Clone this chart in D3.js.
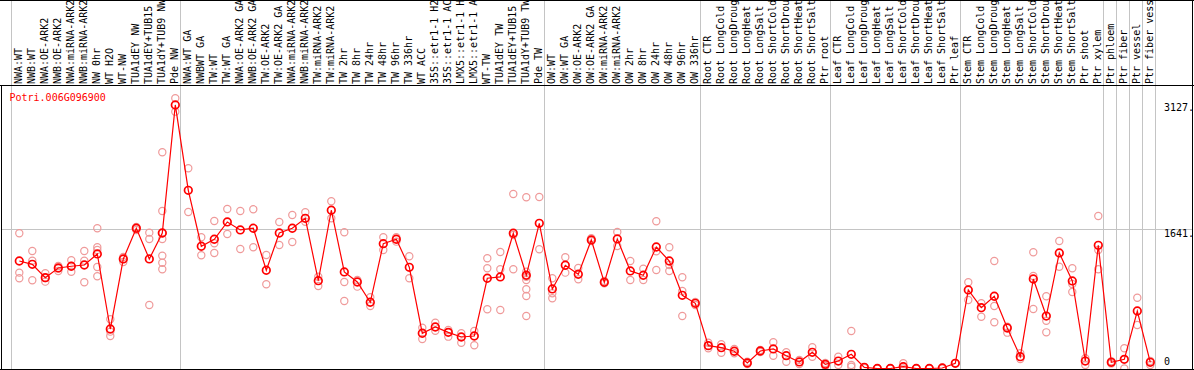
<!DOCTYPE html>
<html>
<head>
<meta charset="utf-8">
<script src="https://cdn.jsdelivr.net/npm/d3@7"></script>
<style>
body { margin: 0; background: #fff; }
svg { display: block; }
text { font-family: "DejaVu Sans Mono", monospace; font-size: 10px; }
</style>
</head>
<body>
<div id="chart"></div>
<script>

// gene shown in the chart
var geneName = "Potri.006G096900";

// sample names, as far as they show in the header
var categories = [
	"NWA:WT", "NWB:WT", "NWA:OE-ARK2", "NWB:OE-ARK2", "NWA:miRNA-ARK2", "NWB:miRNA-ARK2",
	"NW 0hr", "WT H2O", "WT-NW", "TUA1dEY NW", "TUA1dEY+TUB15", "TUA1dY+TUB9 NW", "Pde NW",
	"NWA:WT GA", "NWBWT GA", "TW:WT", "TW:WT GA", "NWA:OE-ARK2 GA", "NWB:OE-ARK2 GA",
	"TW:OE-ARK2", "TW:OE-ARK2 GA", "NWA:miRNA-ARK2", "NWB:miRNA-ARK2", "TW:miRNA-ARK2",
	"TW:miRNA-ARK2", "TW 2hr", "TW 8hr", "TW 24hr", "TW 48hr", "TW 96hr", "TW 336hr",
	"WT ACC", "35S::etr1-1 H2", "35S::etr1-1 AC", "LMX5::etr1-1 H", "LMX5::etr1-1 A",
	"WT-TW", "TUA1dEY TW", "TUA1dEY+TUB15", "TUA1dY+TUB9 TW", "Pde TW",
	"OW:WT", "OW:WT GA", "OW:OE-ARK2", "OW:OE-ARK2 GA", "OW:miRNA-ARK2", "OW:miRNA-ARK2",
	"OW 2hr", "OW 8hr", "OW 24hr", "OW 48hr", "OW 96hr", "OW 336hr",
	"Root CTR", "Root LongCold", "Root LongDroug", "Root LongHeat", "Root LongSalt",
	"Root ShortCold", "Root ShortDrou", "Root ShortHeat", "Root ShortSalt", "Ptr root",
	"Leaf CTR", "Leaf LongCold", "Leaf LongDroug", "Leaf LongHeat", "Leaf LongSalt",
	"Leaf ShortCold", "Leaf ShortDrou", "Leaf ShortHeat", "Leaf ShortSalt", "Ptr leaf",
	"Stem CTR", "Stem LongCold", "Stem LongDroug", "Stem LongHeat", "Stem LongSalt",
	"Stem ShortCold", "Stem ShortDrou", "Stem ShortHeat", "Stem ShortSalt",
	"Ptr shoot", "Ptr xylem", "Ptr phloem", "Ptr fiber", "Ptr vessel", "Ptr fiber vess"
];

// mean expression per sample (the dark line)
var meanValues = [
	1266, 1227, 1070, 1184, 1204, 1219, 1349, 465, 1290, 1652, 1290, 1596, 3104,
	2099, 1440, 1522, 1726, 1632, 1652, 1157, 1596, 1652, 1769, 1034, 1864,
	1137, 1019, 780, 1470, 1522, 1192, 415, 489, 426, 371, 383,
	1063, 1078, 1593, 1098, 1710,
	937, 1216, 1110, 1514, 1015, 1526, 1149, 1098, 1431, 1266, 862, 768,
	269, 245, 203, 65, 206, 230, 151, 77, 191, 49,
	88, 167, 14, 0, 0, 21, 0, 0, 6, 61,
	925, 716, 851, 477, 139, 1054, 618, 1361, 1031,
	88, 1451, 73, 108, 677, 73
];

// single replicates per sample (the pale circles)
var replicateValues = [
	[1593, 1129, 1063], [1384, 1270, 1039], [1121, 1066, 1023], [1207, 1178, 1149],
	[1275, 1207, 1140], [1384, 1270, 1015], [1652, 1428, 1396, 1196, 1086], [580, 434, 383],
	[1313, 1290, 1255], [1667, 1652, 1632], [1600, 1526, 748],
	[2547, 1855, 1593, 1526, 1329, 1246, 1169], [3183, 3025],
	[2358, 1844], [1546, 1333], [1738, 1475, 1361], [1879, 1584], [1855, 1408], [1875, 1428],
	[1337, 992], [1726, 1455], [1808, 1490], [1840, 1729], [1081, 972], [1970, 1769],
	[1604, 1019, 795], [1043, 964], [839, 736], [1546, 1396], [1546, 1494], [1322, 1063],
	[481, 348], [540, 445], [454, 375], [415, 304], [442, 273],
	[1298, 1180, 697], [1372, 1169, 689], [2056, 1573, 1169],
	[2017, 1140, 1081, 1043, 933, 854, 618], [2020, 1404],
	[1063, 886, 827], [1310, 1129], [1184, 1051], [1534, 1502], [1031, 1004], [1608, 1443],
	[1266, 1043], [1176, 1043], [1734, 1381, 1160], [1428, 1219, 1149], [1074, 913, 618], [783, 748],
	[304, 238], [285, 186], [230, 179], [80, 53], [218, 194], [309, 151], [191, 80],
	[100, 53], [250, 139], [65, 29],
	[139, 41], [442, 41, 21], [15, 5], [0, 0], [0, 0], [61, 0], [0, 0], [0, 0], [8, 0], [64, 58],
	[1015, 807], [768, 610], [1266, 736, 544], [492, 422], [179, 112], [1369, 1090, 701],
	[851, 563, 426], [1502, 1199], [1180, 995, 901],
	[120, 41], [1796, 1396, 1169], [85, 60], [238, 0], [834, 512], [88, 41]
];

// right hand axis
var tickValues = [3127, 1641, 0];
var tickLabels = ["3127.", "1641.", "0"];
var gridValues = [1641];

// samples after which a grey separator is drawn (-1 = before the first one)
var separatorAfter = [-1, 12, 40, 52, 62, 72, 83, 84, 85, 86, 87];


var width = 1194, height = 370;
var headerH = 85, plotRight = 1192, plotBottom = 369;

var svg = d3.select("#chart").append("svg")
	.attr("width", width).attr("height", height);

var x = d3.scaleLinear().domain([0, categories.length - 1]).range([19.3, 1150.3]);
var y = d3.scaleLinear().domain([0, 3127]).range([368.5, 103]);

svg.append("clipPath").attr("id", "plotClip")
	.append("rect")
	.attr("x", 2).attr("y", headerH + 1)
	.attr("width", plotRight - 2).attr("height", plotBottom - headerH - 1);

// grey separators and gridline
svg.selectAll(".sep").data(separatorAfter).enter().append("line")
	.attr("class", "sep")
	.attr("x1", function(d){ return Math.round(x(d) + 5) + 0.5; })
	.attr("x2", function(d){ return Math.round(x(d) + 5) + 0.5; })
	.attr("y1", 0).attr("y2", plotBottom)
	.attr("stroke", "#c4c4c4").attr("stroke-width", 1);

svg.selectAll(".grid").data(gridValues).enter().append("line")
	.attr("class", "grid")
	.attr("x1", 1).attr("x2", plotRight)
	.attr("y1", function(d){ return Math.round(y(d)) + 0.5; })
	.attr("y2", function(d){ return Math.round(y(d)) + 0.5; })
	.attr("stroke", "#c4c4c4").attr("stroke-width", 1);

var plot = svg.append("g").attr("clip-path", "url(#plotClip)");

// replicates first so the mean line sits on top
var reps = [];
replicateValues.forEach(function(list, i){
	list.forEach(function(v){ reps.push({ i: i, v: v }); });
});

plot.selectAll(".rep").data(reps).enter().append("circle")
	.attr("class", "rep")
	.attr("cx", function(d){ return x(d.i); })
	.attr("cy", function(d){ return y(d.v); })
	.attr("r", 3.6)
	.attr("fill", "none")
	.attr("stroke", "#ef9a9a")
	.attr("stroke-width", 1.2);

var line = d3.line()
	.x(function(d, i){ return x(i); })
	.y(function(d){ return y(d); });

plot.append("path")
	.datum(meanValues)
	.attr("d", line)
	.attr("fill", "none")
	.attr("stroke", "#ff0000")
	.attr("stroke-width", 1.2);

plot.selectAll(".mean").data(meanValues).enter().append("circle")
	.attr("class", "mean")
	.attr("cx", function(d, i){ return x(i); })
	.attr("cy", function(d){ return y(d); })
	.attr("r", 3.8)
	.attr("fill", "none")
	.attr("stroke", "#ff0000")
	.attr("stroke-width", 1.7);

// frame
var frame = [
	[0, 0.5, width, 0.5],
	[0, headerH + 0.5, width, headerH + 0.5],
	[1.5, headerH, 1.5, height],
	[plotRight + 0.5, 0, plotRight + 0.5, height],
	[0, plotBottom + 0.5, width, plotBottom + 0.5]
];
svg.selectAll(".frame").data(frame).enter().append("line")
	.attr("x1", function(d){ return d[0]; }).attr("y1", function(d){ return d[1]; })
	.attr("x2", function(d){ return d[2]; }).attr("y2", function(d){ return d[3]; })
	.attr("stroke", "#000").attr("stroke-width", 1);

// rotated sample names in the header
svg.append("g").selectAll("text").data(categories).enter().append("text")
	.attr("transform", function(d, i){ return "translate(" + (x(i) + 3) + "," + (headerH - 1) + ") rotate(-90)"; })
	.attr("fill", "#000")
	.text(function(d){ return d; });

// gene name
svg.append("text")
	.attr("x", 9.5).attr("y", 101)
	.attr("fill", "#ff0000")
	.text(geneName);

// value labels on the right
svg.selectAll(".tick").data(tickValues).enter().append("text")
	.attr("class", "tick")
	.attr("x", 1164)
	.attr("y", function(d){ return d == 0 ? y(d) - 3.5 : y(d) + 8; })
	.attr("fill", "#000")
	.text(function(d, i){ return tickLabels[i]; });

</script>
</body>
</html>
